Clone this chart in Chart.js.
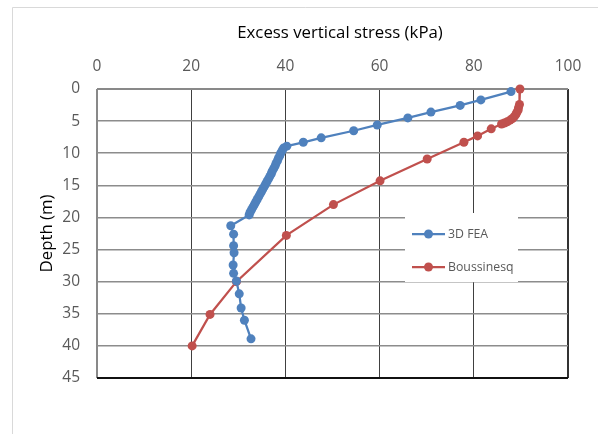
<!DOCTYPE html>
<html>
<head>
<meta charset="utf-8">
<script src="https://cdn.jsdelivr.net/npm/chart.js@4"></script>
<style>
html,body{margin:0;padding:0;background:#fff;}
#wrap{width:598px;height:434px;}
</style>
</head>
<body>
<div id="wrap"><canvas id="c" width="598" height="434"></canvas></div>
<script>
const seriesNames = ['3D FEA', 'Boussinesq'];
const feaStress = [87.9, 81.5, 77.1, 70.9, 66.0, 59.5, 54.5, 47.6, 43.8, 40.3, 39.6, 39.3, 39.0, 38.8, 38.5, 38.3, 38.0, 37.8, 37.5, 37.2, 37.0, 36.7, 36.4, 36.1, 35.8, 35.5, 35.2, 34.9, 34.6, 34.3, 34.0, 33.7, 33.4, 33.1, 32.8, 32.5, 32.3, 28.4, 29.0, 29.0, 29.1, 28.9, 29.0, 29.6, 30.2, 30.6, 31.3, 32.7];
const feaDepth = [0.4, 1.7, 2.55, 3.6, 4.5, 5.6, 6.5, 7.6, 8.3, 8.9, 9.2, 9.6, 10.0, 10.4, 10.8, 11.2, 11.6, 12.0, 12.4, 12.8, 13.2, 13.6, 14.0, 14.4, 14.8, 15.2, 15.6, 16.0, 16.4, 16.8, 17.2, 17.6, 18.0, 18.4, 18.8, 19.2, 19.6, 21.3, 22.6, 24.4, 25.5, 27.4, 28.7, 29.9, 31.9, 34.1, 36.0, 38.9];
const boussStress = [89.8, 89.7, 89.5, 89.4, 89.1, 88.9, 88.6, 88.2, 87.7, 87.1, 86.5, 85.9, 83.7, 80.8, 77.9, 70.1, 60.1, 50.2, 40.2, 29.6, 24.0, 20.2];
const boussDepth = [0.0, 2.4, 2.9, 3.3, 3.7, 4.0, 4.3, 4.6, 4.85, 5.1, 5.3, 5.45, 6.2, 7.3, 8.3, 10.9, 14.3, 18.0, 22.8, 30.0, 35.1, 40.0];
const xTicks = [0, 20, 40, 60, 80, 100];
const yTicks = [0, 5, 10, 15, 20, 25, 30, 35, 40, 45];
const xTitle = 'Excess vertical stress (kPa)';
const yTitle = 'Depth (m)';
const colors = ['#4f81bd', '#c0504d'];

function pts(xs, ys){ return xs.map((v,i)=>({x:v, y:ys[i]})); }

const FONT = '"Open Sans", sans-serif';

const frame = {
  id:'frame',
  beforeDraw(chart){
    const ctx = chart.ctx;
    ctx.save();
    ctx.fillStyle = '#fff';
    ctx.fillRect(0,0,chart.width,chart.height);
    ctx.strokeStyle = '#d9d9d9';
    ctx.lineWidth = 1;
    ctx.beginPath();
    ctx.moveTo(12.5, chart.height+2);
    ctx.lineTo(12.5, 7.5);
    ctx.lineTo(chart.width+2, 7.5);
    ctx.stroke();
    ctx.fillStyle = '#000';
    ctx.font = '16.8px ' + FONT;
    ctx.textAlign = 'center';
    ctx.textBaseline = 'middle';
    ctx.fillText(xTitle, 340, 33);
    ctx.restore();
  }
};

const legendBox = {
  id:'legendBox',
  afterDatasetsDraw(chart){
    const ctx = chart.ctx;
    ctx.save();
    ctx.fillStyle = '#fff';
    ctx.fillRect(405, 213, 113, 69);
    const rows = [234, 267];
    chart.data.datasets.forEach((ds, i) => {
      const y = rows[i];
      ctx.strokeStyle = ds.borderColor;
      ctx.lineWidth = 2.25;
      ctx.beginPath();
      ctx.moveTo(412, y);
      ctx.lineTo(445, y);
      ctx.stroke();
      ctx.fillStyle = ds.backgroundColor;
      ctx.beginPath();
      ctx.arc(428.5, y, 4.5, 0, Math.PI*2);
      ctx.fill();
      ctx.fillStyle = '#595959';
      ctx.font = '12.3px ' + FONT;
      ctx.textBaseline = 'middle';
      ctx.textAlign = 'left';
      ctx.fillText(ds.label, 448, y);
    });
    ctx.restore();
  }
};

new Chart(document.getElementById('c'), {
  type: 'scatter',
  data: {
    datasets: [
      { label: seriesNames[0], data: pts(feaStress, feaDepth), showLine: true,
        borderColor: colors[0], backgroundColor: colors[0], borderWidth: 2.25,
        pointRadius: 4.5, pointHoverRadius: 4.5, pointBorderWidth: 0, clip: false },
      { label: seriesNames[1], data: pts(boussStress, boussDepth), showLine: true,
        borderColor: colors[1], backgroundColor: colors[1], borderWidth: 2.25,
        pointRadius: 4.5, pointHoverRadius: 4.5, pointBorderWidth: 0, clip: false }
    ]
  },
  options: {
    responsive: false,
    animation: false,
    events: [],
    layout: { padding: { left: 0, top: 0, right: 30, bottom: 56 } },
    plugins: { legend: { display: false }, tooltip: { enabled: false } },
    scales: {
      x: {
        type: 'linear', position: 'top', min: 0, max: 100,
        afterBuildTicks(s){ s.ticks = xTicks.map(v=>({value:v})); },
        afterFit(s){ s.height = 89; },
        ticks: { color: '#595959', font: { family: FONT, size: 15.5 }, padding: 13, maxRotation: 0 },
        grid: {
          drawTicks: false,
          color: c => c.tick.value === 0 ? '#898989' : (c.tick.value === 100 ? '#333333' : '#404040'),
          lineWidth: c => (c.tick.value === 0 || c.tick.value === 100) ? 2 : 1
        },
        border: { display: false },
        title: { display: false }
      },
      y: {
        type: 'linear', reverse: true, min: 0, max: 45,
        afterBuildTicks(s){ s.ticks = yTicks.map(v=>({value:v})); },
        afterFit(s){ s.width = 97; },
        ticks: { color: '#595959', font: { family: FONT, size: 15.5 }, padding: 17 },
        grid: {
          drawTicks: false,
          color: c => c.tick.value === 0 ? '#898989' : (c.tick.value === 45 ? '#111111' : '#8c8c8c'),
          lineWidth: c => (c.tick.value === 0 || c.tick.value === 45) ? 2 : 1.5
        },
        border: { display: false },
        title: { display: true, text: yTitle, color: '#000', font: { family: FONT, size: 16.8 }, padding: { top: 37, bottom: 0 } }
      }
    }
  },
  plugins: [frame, legendBox]
});
</script>
</body>
</html>
